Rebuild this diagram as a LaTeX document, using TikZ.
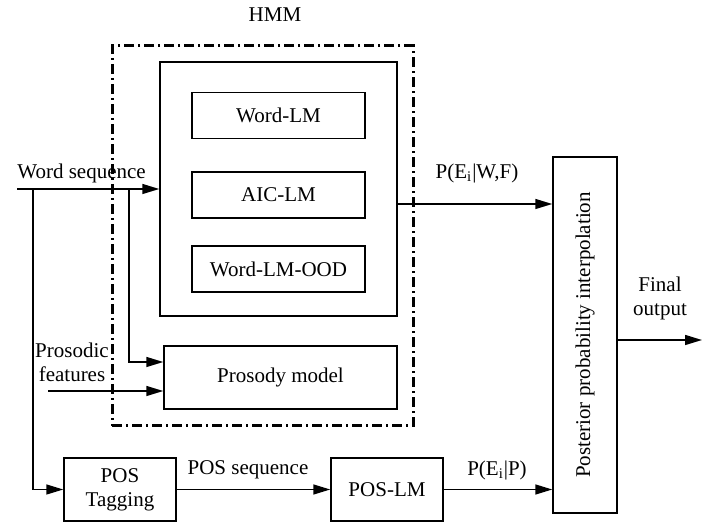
\documentclass[tikz,border=0pt]{standalone}
\usepackage{fontspec}
\setmainfont{Liberation Serif}
\usetikzlibrary{arrows.meta, positioning}

\begin{document}
\begin{tikzpicture}[
    x=0.5pt, y=-0.5pt,
    font=\fontsize{10.5}{12}\selectfont,
    block/.style={
        draw, line width=0.75pt, inner sep=0pt
    },
    link/.style={
        -{Triangle[length=8.5pt, width=5pt]}, line width=0.75pt
    },
    txt/.style={inner sep=1pt, align=center}
]
\useasboundingbox (0,0) rectangle (702,523);

% HMM region
\node[block, line width=1.5pt, dash pattern=on 5pt off 2pt on 1pt off 2pt,
    minimum width=150.5pt, minimum height=190pt] (hmm) at (262.5,236) {};
\node[txt] (hmmlabel) at (275,15) {HMM};

% Language models
\node[block, minimum width=118.5pt, minimum height=127pt] (lmset) at (278.5,189) {};
\node[block, minimum width=86.5pt, minimum height=23pt] (wordlm) at (278.5,115.5) {Word-LM};
\node[block, minimum width=86.5pt, minimum height=23pt] (aiclm) at (278.5,195) {AIC-LM};
\node[block, minimum width=86.5pt, minimum height=23pt] (oodlm) at (278.5,269) {Word-LM-OOD};

% Prosody model
\node[block, minimum width=116.5pt, minimum height=31.5pt] (prosody) at (280.5,377.5) {Prosody model};

% POS branch
\node[block, minimum width=56pt, minimum height=31.5pt, align=center] (postag) at (120,489.5) {POS\\Tagging};
\node[block, minimum width=56pt, minimum height=31.5pt] (poslm) at (387,489.5) {POS-LM};

% Interpolation
\node[block, minimum width=32pt, minimum height=178pt] (post) at (585,335) {};
\node[rotate=90] (posttext) at (post.center) {Posterior probability interpolation};

% Inputs
\coordinate (ws) at (17,189);
\coordinate (b1) at (33,189);
\coordinate (b2) at (129,189);
\coordinate (pf) at (48,391);
\coordinate (pw) at (397,204);
\coordinate (fo) at (702,340);

\draw[link] (ws) -- (ws -| lmset.west);
\node[txt, anchor=south west] (wslabel) at (15,185) {Word sequence};
\draw[link] (b1) |- (postag.west);
\draw[link] (b2) |- ([yshift=7.75pt]prosody.west);
\draw[link] (pf) -- (pf -| prosody.west);
\node[txt] (pflabel) at (72,362) {Prosodic\\features};

% Outputs
\draw[link] (pw) -- (pw -| post.west);
\node[txt] (pwlabel) at (477,173) {P(E\textsubscript{i}|W,F)};
\draw[link] (postag.east) -- (poslm.west);
\node[txt] (pslabel) at (248,470) {POS sequence};
\draw[link] (poslm.east) -- (poslm.east -| post.west);
\node[txt] (pplabel) at (497,470) {P(E\textsubscript{i}|P)};
\draw[link] (post.east |- fo) -- (fo);
\node[txt] (folabel) at (660,298) {Final\\output};

\end{tikzpicture}
\end{document}
